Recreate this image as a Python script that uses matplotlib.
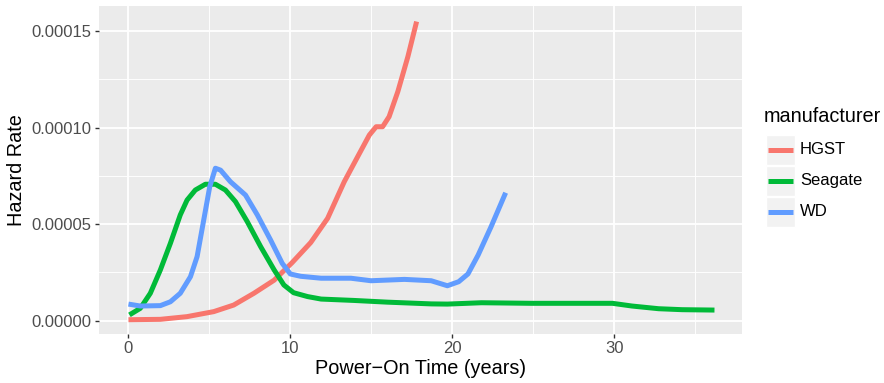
import matplotlib
matplotlib.use("Agg")
import matplotlib.pyplot as plt
import numpy as np

plt.rcParams['font.family'] = ['Liberation Sans', 'DejaVu Sans']

# hazard rate curves (x in years, y in units of 1e-5)
hgst_x = [0, 1.97, 3.62, 5.27, 6.5, 7.75, 9.0, 10.1, 11.26, 12.3, 13.33, 14.16, 14.88, 15.3, 15.7, 16.1,
          16.64, 17.26, 17.8]
hgst_y = [0.05, 0.07, 0.21, 0.47, 0.81, 1.42, 2.1, 3.0, 4.05, 5.3, 7.2, 8.5, 9.62, 10.05, 10.05, 10.57,
          11.87, 13.68, 15.5]

seagate_x = [0.06, 0.73, 1.35, 1.97, 2.59, 3.2, 3.62, 4.13, 4.75, 5.37, 5.99, 6.61, 7.34, 8.17, 9.0, 9.6,
             10.2, 11.06, 11.9, 13.9, 16.0, 18.7, 19.7, 21.8, 24.9, 28.0, 29.9, 31.1, 32.75, 34.2, 36.2]
seagate_y = [0.3, 0.64, 1.42, 2.63, 4.01, 5.48, 6.25, 6.77, 7.07, 7.07, 6.77, 6.17, 5.13, 3.83, 2.63, 1.85,
             1.45, 1.25, 1.12, 1.05, 0.96, 0.87, 0.86, 0.93, 0.9, 0.9, 0.9, 0.76, 0.62, 0.57, 0.55]

wd_x = [0, 0.73, 1.97, 2.59, 3.2, 3.83, 4.24, 4.65, 5.02, 5.37, 5.69, 6.3, 7.23, 7.96, 8.78, 9.5, 10.0,
        10.64, 11.9, 13.74, 14.98, 17.05, 18.7, 19.7, 20.4, 20.97, 21.6, 22.4, 23.3]
wd_y = [0.86, 0.76, 0.78, 0.98, 1.42, 2.28, 3.32, 5.22, 6.94, 7.9, 7.8, 7.2, 6.51, 5.48, 4.18, 2.97, 2.42,
        2.3, 2.2, 2.2, 2.07, 2.14, 2.07, 1.81, 2.02, 2.42, 3.4, 4.87, 6.63]

manufacturers = ['HGST', 'Seagate', 'WD']
colors = ['#F8766D', '#00BA38', '#619CFF']
series = [(hgst_x, hgst_y), (seagate_x, seagate_y), (wd_x, wd_y)]

W, H = 884, 383
fig = plt.figure(figsize=(W / 100, H / 100), dpi=100)

def px_axes(x0, y0, x1, y1):
    # pixel box (top-left origin) -> figure axes
    return fig.add_axes([x0 / W, 1 - y1 / H, (x1 - x0) / W, (y1 - y0) / H])

ax = px_axes(99, 6, 742, 334)
ax.set_facecolor('#EBEBEB')
for s in ax.spines.values():
    s.set_visible(False)

for (xs, ys), c in zip(series, colors):
    ax.plot(xs, np.array(ys) * 1e-5, color=c, lw=3.6, solid_capstyle='butt', solid_joinstyle='round', zorder=3)

ax.set_xlim(-1.82, 37.9)
ax.set_ylim(-6.9e-6, 1.6306e-4)
ax.set_xticks([0, 10, 20, 30])
ax.set_xticks([5, 15, 25, 35], minor=True)
ax.set_yticks([0, 5e-5, 1e-4, 1.5e-4])
ax.set_yticks([2.5e-5, 7.5e-5, 1.25e-4], minor=True)
ax.set_yticklabels(['0.00000', '0.00005', '0.00010', '0.00015'])
ax.grid(which='major', color='white', lw=1.3, zorder=1)
ax.grid(which='minor', color='white', lw=0.65, zorder=1)
ax.set_axisbelow(True)
ax.tick_params(which='major', length=3.2, width=1.0, color='#333333', labelsize=12, labelcolor='#4D4D4D', pad=2)
ax.tick_params(which='minor', length=0)

ax.set_xlabel('Power\u2212On Time (years)', fontsize=14.3, labelpad=2)
ax.set_ylabel('Hazard Rate', fontsize=14.3, labelpad=4)

# legend drawn ggplot-style
lax = px_axes(760, 95, 884, 235)
lax.set_xlim(760, 884)
lax.set_ylim(235, 95)
lax.axis('off')
lax.text(764, 117, 'manufacturer', fontsize=14.3, va='center', ha='left')
key_tops = [135, 166, 197]
for name, c, top in zip(manufacturers, colors, key_tops):
    lax.add_patch(plt.Rectangle((766, top), 29, 30, facecolor='#F2F2F2', edgecolor='white', lw=1))
    lax.plot([768, 793], [top + 15, top + 15], color=c, lw=3.6, solid_capstyle='butt')
    lax.text(800, top + 15, name, fontsize=12, va='center', ha='left')

fig.savefig('out.png', dpi=100)
